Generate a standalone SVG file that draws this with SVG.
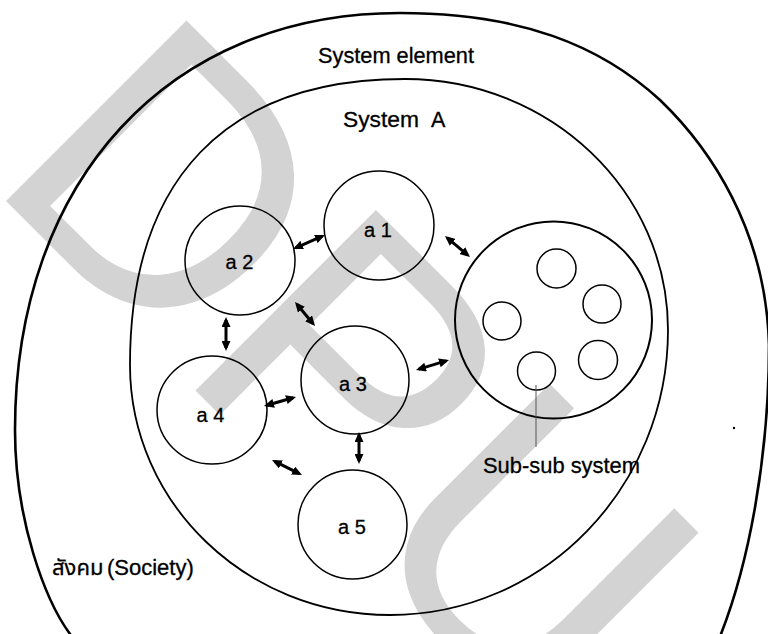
<svg xmlns="http://www.w3.org/2000/svg" width="768" height="634" viewBox="0 0 768 634">
<defs>
<style>
.t{font-family:"Liberation Sans","Noto Sans Thai","Noto Sans",Arial,sans-serif;fill:#000;stroke:#000;stroke-width:0.3}
.lbl{font-size:20px;text-anchor:middle}
.node{fill:none;stroke:#000;stroke-width:1.5}
.small{fill:none;stroke:#000;stroke-width:1.5}
.arr{fill:none;stroke:#000;stroke-width:3;marker-start:url(#ah);marker-end:url(#ah)}
.wm{font-family:"Liberation Sans",Arial,sans-serif;font-size:371px;fill:#d3d3d3}
</style>
<marker id="ah" viewBox="0 0 10 9" markerUnits="userSpaceOnUse" markerWidth="10" markerHeight="9" refX="7" refY="4.5" orient="auto-start-reverse">
<path d="M0,0 L10,4.5 L0,9 Z" fill="#000"/>
</marker>
</defs>
<rect width="768" height="634" fill="#fff"/>
<g id="watermark">
<text class="wm" transform="translate(-15.5,179.5) rotate(45)">DPU</text>
</g>
<g id="society">
<path d="M400,13 C520,13 600,45 660,100 C710,148 766,230 769,345 C769,460 748,565 721,634 C700,690 120,700 70,634 C45,600 15,520 15,430 C15,180 169,13 400,13 Z" fill="none" stroke="#000" stroke-width="2.6"/>
<text class="t" x="52" y="575" font-size="22">สังคม <tspan x="107">(Society)</tspan></text>
<circle cx="734" cy="428" r="1.2" fill="#000"/>
</g>
<g id="system-element">
<text class="t" x="396" y="63" font-size="21.5" text-anchor="middle" textLength="156" lengthAdjust="spacingAndGlyphs">System element</text>
</g>
<g id="system-a">
<path d="M405,79 C550,79 668,191 668,330 C668,487 544,615 390,615 C246,615 130,503 130,365 C130,179 226,79 405,79 Z" fill="none" stroke="#000" stroke-width="1.8"/>
<text class="t" x="343" y="127" font-size="21.5"><tspan textLength="76" lengthAdjust="spacingAndGlyphs">System</tspan> <tspan x="431">A</tspan></text>
</g>
<g id="a1">
<ellipse class="node" cx="379" cy="225.5" rx="55" ry="54.5"/>
<text class="t lbl" x="378" y="237">a 1</text>
</g>
<g id="a2">
<ellipse class="node" cx="240" cy="260.5" rx="55" ry="54.5"/>
<text class="t lbl" x="239.5" y="269">a 2</text>
</g>
<g id="a3">
<ellipse class="node" cx="355" cy="380" rx="54" ry="54"/>
<text class="t lbl" x="353" y="391">a 3</text>
</g>
<g id="a4">
<ellipse class="node" cx="212" cy="410" rx="55" ry="54"/>
<text class="t lbl" x="210.5" y="422">a 4</text>
</g>
<g id="a5">
<ellipse class="node" cx="352.5" cy="524.5" rx="54.5" ry="54.5"/>
<text class="t lbl" x="352" y="534">a 5</text>
</g>
<g id="sub-system">
<circle cx="553.5" cy="320" r="98.5" fill="none" stroke="#000" stroke-width="2"/>
<circle class="small" cx="556.5" cy="268.5" r="19.5"/>
<circle class="small" cx="602" cy="304" r="19"/>
<circle class="small" cx="502" cy="321" r="19"/>
<circle class="small" cx="598" cy="360" r="19.5"/>
<circle class="small" cx="536.5" cy="371" r="19"/>
</g>
<g id="sub-sub-label">
<line x1="536" y1="385" x2="536" y2="447" stroke="#555" stroke-width="1"/>
<text class="t" x="483" y="473" font-size="22" textLength="157" lengthAdjust="spacingAndGlyphs">Sub-sub system</text>
</g>
<g id="connectors">
<line class="arr" x1="295.75" y1="247.8" x2="322.25" y2="236.2"/>
<line class="arr" x1="447.3" y1="237.9" x2="467.7" y2="255.1"/>
<line class="arr" x1="296.9" y1="304.3" x2="313.1" y2="323.7"/>
<line class="arr" x1="226" y1="320" x2="226" y2="348"/>
<line class="arr" x1="266.9" y1="405.2" x2="293.1" y2="397.8"/>
<line class="arr" x1="359" y1="435" x2="359" y2="461"/>
<line class="arr" x1="274.7" y1="461.3" x2="299.3" y2="473.7"/>
<line class="arr" x1="418.9" y1="369.1" x2="446.1" y2="360.9"/>
</g>
</svg>
